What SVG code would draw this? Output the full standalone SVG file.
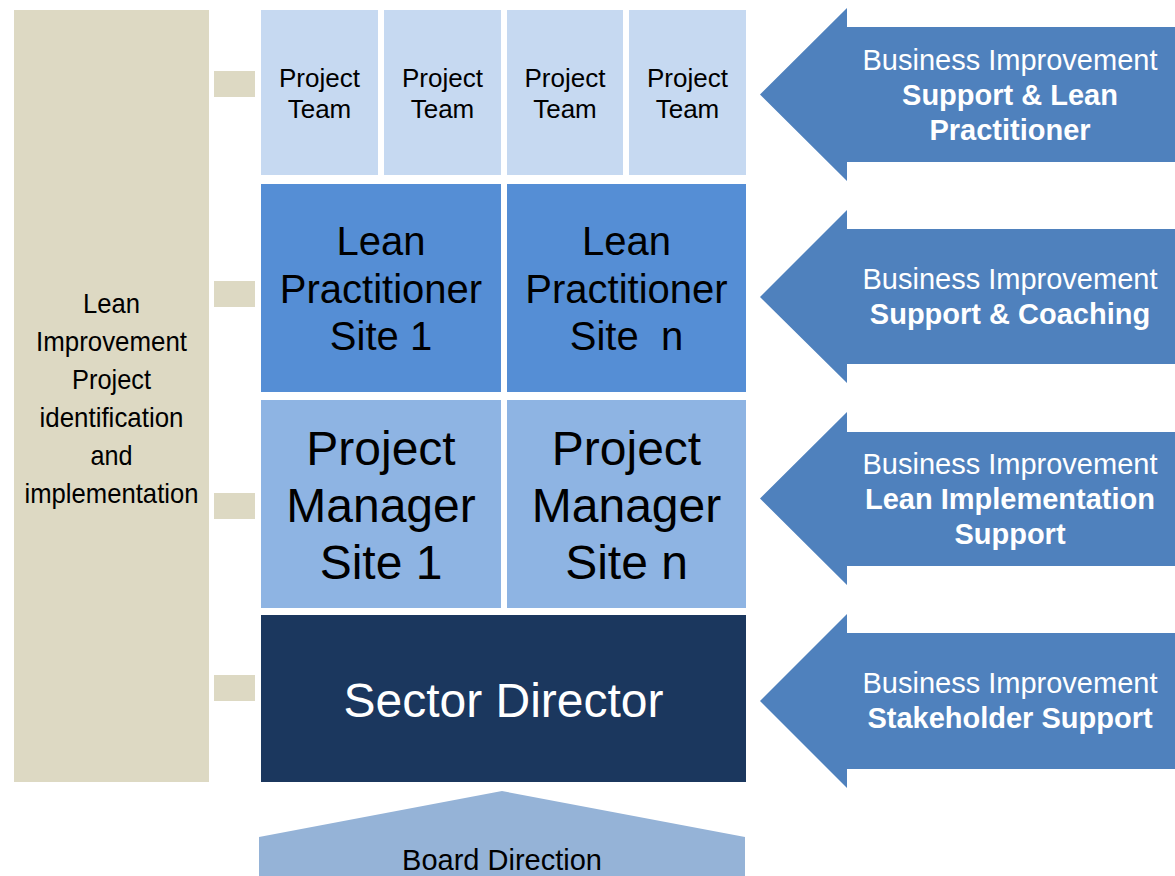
<svg xmlns="http://www.w3.org/2000/svg" width="1175" height="876" viewBox="0 0 1175 876">
  <style>
    text { font-family: "Liberation Sans", Arial, sans-serif; text-anchor: middle; }
    .tan { fill: #DDD9C3; }
    .pt { fill: #C6D9F1; }
    .lp { fill: #558ED5; }
    .pm { fill: #8EB4E3; }
    .sd { fill: #1B375E; }
    .arr { fill: #4F81BD; }
    .bd { fill: #95B3D7; }
    .t26 { font-size: 26px; fill: #000; }
    .t40 { font-size: 40px; fill: #000; }
    .t48 { font-size: 48px; fill: #000; }
    .tsd { font-size: 48px; fill: #fff; }
    .left { font-family: "Liberation Sans Narrow", "Liberation Sans", Arial, sans-serif; font-size: 28px; fill: #000; }
    .arrn { font-size: 29px; fill: #fff; }
    .arrb { font-size: 29px; fill: #fff; font-weight: bold; }
    .bdt { font-size: 29px; fill: #000; }
  </style>

  <g id="lean-improvement">
    <rect class="tan" x="14" y="10" width="195" height="772"/>
    <text class="left" x="111.5" y="313" textLength="57" lengthAdjust="spacingAndGlyphs">Lean</text>
    <text class="left" x="111.5" y="351" textLength="151" lengthAdjust="spacingAndGlyphs">Improvement</text>
    <text class="left" x="111.5" y="389" textLength="79" lengthAdjust="spacingAndGlyphs">Project</text>
    <text class="left" x="111.5" y="427" textLength="144" lengthAdjust="spacingAndGlyphs">identification</text>
    <text class="left" x="111.5" y="465" textLength="42" lengthAdjust="spacingAndGlyphs">and</text>
    <text class="left" x="111.5" y="503" textLength="174" lengthAdjust="spacingAndGlyphs">implementation</text>
  </g>

  <g id="connectors">
    <rect class="tan" x="214" y="71" width="41" height="26"/>
    <rect class="tan" x="214" y="281" width="41" height="26"/>
    <rect class="tan" x="214" y="493" width="41" height="26"/>
    <rect class="tan" x="214" y="675" width="41" height="26"/>
  </g>

  <g id="project-team-1">
    <rect class="pt" x="261" y="10" width="117" height="165"/>
    <text class="t26" x="319.5" y="87">Project</text>
    <text class="t26" x="319.5" y="118">Team</text>
  </g>
  <g id="project-team-2">
    <rect class="pt" x="384" y="10" width="117" height="165"/>
    <text class="t26" x="442.5" y="87">Project</text>
    <text class="t26" x="442.5" y="118">Team</text>
  </g>
  <g id="project-team-3">
    <rect class="pt" x="507" y="10" width="116" height="165"/>
    <text class="t26" x="565" y="87">Project</text>
    <text class="t26" x="565" y="118">Team</text>
  </g>
  <g id="project-team-4">
    <rect class="pt" x="629" y="10" width="117" height="165"/>
    <text class="t26" x="687.5" y="87">Project</text>
    <text class="t26" x="687.5" y="118">Team</text>
  </g>

  <g id="lean-practitioner-1">
    <rect class="lp" x="261" y="184" width="240" height="208"/>
    <text class="t40" x="381" y="255">Lean</text>
    <text class="t40" x="381" y="303">Practitioner</text>
    <text class="t40" x="381" y="350">Site 1</text>
  </g>
  <g id="lean-practitioner-n">
    <rect class="lp" x="507" y="184" width="239" height="208"/>
    <text class="t40" x="626.5" y="255">Lean</text>
    <text class="t40" x="626.5" y="303">Practitioner</text>
    <text class="t40" x="626.5" y="350" xml:space="preserve">Site  n</text>
  </g>

  <g id="project-manager-1">
    <rect class="pm" x="261" y="400" width="240" height="208"/>
    <text class="t48" x="381" y="465">Project</text>
    <text class="t48" x="381" y="522">Manager</text>
    <text class="t48" x="381" y="579">Site 1</text>
  </g>
  <g id="project-manager-n">
    <rect class="pm" x="507" y="400" width="239" height="208"/>
    <text class="t48" x="626.5" y="465">Project</text>
    <text class="t48" x="626.5" y="522">Manager</text>
    <text class="t48" x="626.5" y="579">Site n</text>
  </g>

  <g id="sector-director">
    <rect class="sd" x="261" y="615" width="485" height="167"/>
    <text class="tsd" x="503.5" y="717">Sector Director</text>
  </g>

  <g id="board-direction">
    <polygon class="bd" points="259,876 259,837 502,791 745,837 745,876"/>
    <text class="bdt" x="502" y="870">Board Direction</text>
  </g>

  <g id="bi-support-lean-practitioner">
    <polygon class="arr" points="760,94.5 847,8 847,27 1175,27 1175,162 847,162 847,181"/>
    <text class="arrn" x="1010" y="70">Business Improvement</text>
    <text class="arrb" x="1010" y="105">Support &amp; Lean</text>
    <text class="arrb" x="1010" y="140">Practitioner</text>
  </g>
  <g id="bi-support-coaching">
    <polygon class="arr" points="760,297 847,210 847,229 1175,229 1175,364 847,364 847,383"/>
    <text class="arrn" x="1010" y="289">Business Improvement</text>
    <text class="arrb" x="1010" y="324">Support &amp; Coaching</text>
  </g>
  <g id="bi-lean-implementation">
    <polygon class="arr" points="760,498.5 847,412 847,432 1175,432 1175,566 847,566 847,585"/>
    <text class="arrn" x="1010" y="474">Business Improvement</text>
    <text class="arrb" x="1010" y="509">Lean Implementation</text>
    <text class="arrb" x="1010" y="544">Support</text>
  </g>
  <g id="bi-stakeholder-support">
    <polygon class="arr" points="760,701 847,614 847,633 1175,633 1175,769 847,769 847,788"/>
    <text class="arrn" x="1010" y="693">Business Improvement</text>
    <text class="arrb" x="1010" y="728">Stakeholder Support</text>
  </g>
</svg>
